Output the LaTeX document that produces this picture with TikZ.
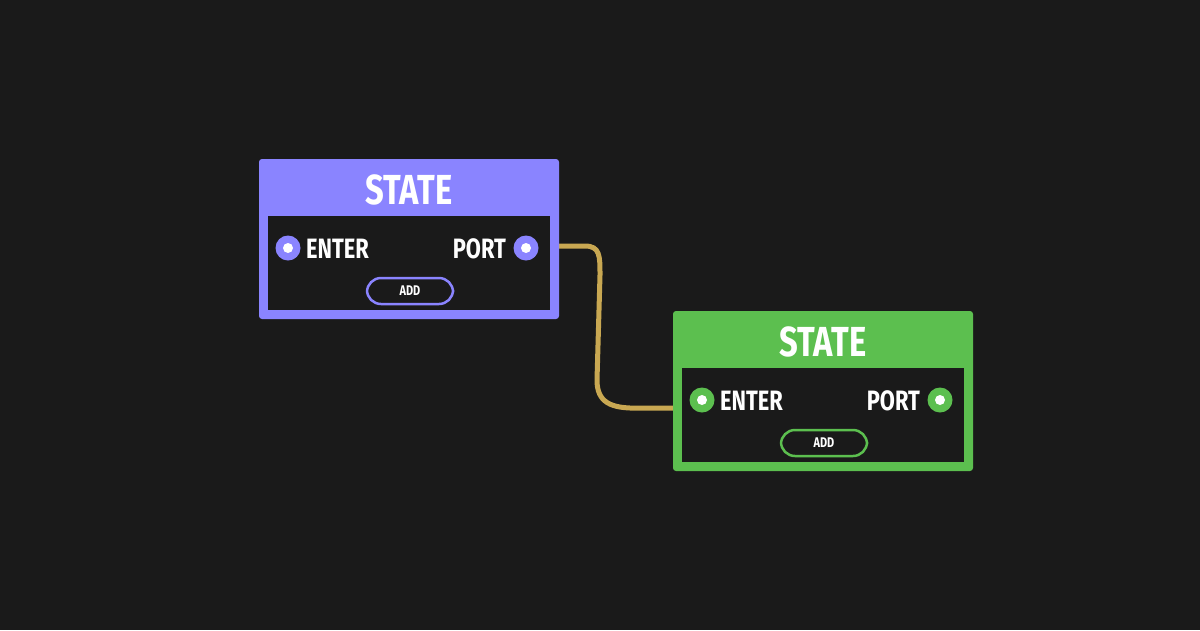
\documentclass[tikz,border=0pt]{standalone}
\usepackage{fontspec}
\setmainfont{Fira Sans}
\begin{document}
\begin{tikzpicture}[x=1pt,y=-1pt,
  cond/.style={font=\bfseries, xscale=0.78, text=white, inner sep=0pt},
  port/.style={circle, fill=#1, minimum size=25pt, inner sep=0pt},
  dot/.style={circle, fill=white, minimum size=10pt, inner sep=0pt},
  pill/.style={draw=#1, line width=2.5pt, rounded corners=14pt, minimum width=86pt, minimum height=26pt, inner sep=0pt}]
\definecolor{bg}{HTML}{1A1A1A}
\definecolor{pur}{HTML}{8A84FF}
\definecolor{grn}{HTML}{5CBF4F}
\definecolor{wire}{HTML}{C9A852}
\fill[bg] (0,0) rectangle (1200,630);
\useasboundingbox (0,0) rectangle (1200,630);
% wire
\coordinate (w1) at (559,246);
\coordinate (w2) at (673,408);
\draw[wire, line width=5pt] (w1) -- (585,246) .. controls (600,246) and (600,256) .. (600,275)
  -- (597,380) .. controls (597,402) and (610,409) .. (640,408) -- (w2);
\foreach \c/\dx/\dy/\n in {pur/0/0/a, grn/414/152/b}{
 \begin{scope}[shift={(\dx,\dy)}]
  \fill[\c, rounded corners=3pt] (259,159) rectangle (559,319);
  \fill[bg] (268,216) rectangle (550,310);
  \node[cond, font=\fontsize{42}{42}\selectfont\bfseries] (t\n) at (409,190) {STATE};
  \node[port=\c] (p1\n) at (288,248) {};
  \node[dot] at (p1\n) {};
  \node[port=\c] (p2\n) at (526,248) {};
  \node[dot] at (p2\n) {};
  \node[cond, anchor=west, font=\fontsize{28}{28}\selectfont\bfseries] (e\n) at (306,249) {ENTER};
  \node[cond, anchor=east, font=\fontsize{28}{28}\selectfont\bfseries] (o\n) at (506,249) {PORT};
  \node[pill=\c] (ad\n) at (410,291) {};
  \node[cond, font=\fontsize{14}{14}\selectfont\bfseries] at (ad\n) {ADD};
 \end{scope}}
\end{tikzpicture}
\end{document}
